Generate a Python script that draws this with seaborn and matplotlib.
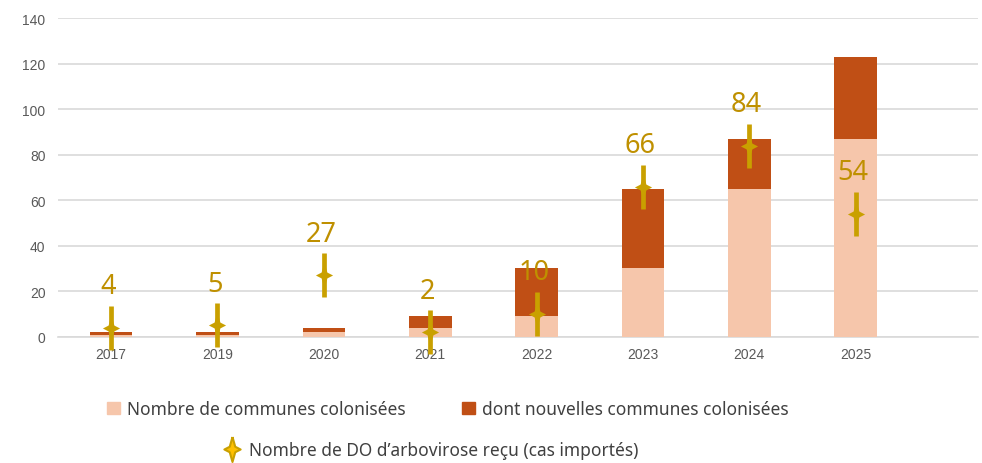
import numpy as np
import matplotlib.pyplot as plt
import seaborn as sns
from matplotlib.patches import Patch
from matplotlib.lines import Line2D

# Data
years = ["2017", "2019", "2020", "2021", "2022", "2023", "2024", "2025"]
communes = [1, 1, 2, 4, 9, 30, 65, 87]          # Nombre de communes colonisées
nouvelles = [1, 1, 2, 5, 21, 35, 22, 36]        # dont nouvelles communes colonisées
do_cases = [4, 5, 27, 2, 10, 66, 84, 54]        # Nombre de DO d'arbovirose reçu

totals = [a + b for a, b in zip(communes, nouvelles)]

# Colours
light = "#F6C6AB"
dark = "#C04F15"
gold = "#C9A000"
label_gold = "#BF9000"
grey = "#595959"

sns.set_theme(style="white")
plt.rcParams['font.family'] = ['Noto Sans', 'DejaVu Sans']

fig, ax = plt.subplots(figsize=(9.82, 4.64), dpi=100)
fig.subplots_adjust(left=0.059, right=0.996, bottom=0.272, top=0.959)

# Stacked bars: total in dark, base in light on top
sns.barplot(x=years, y=totals, color=dark, width=0.4, saturation=1,
            linewidth=0, ax=ax, zorder=2)
sns.barplot(x=years, y=communes, color=light, width=0.4, saturation=1,
            linewidth=0, ax=ax, zorder=3)

# Star markers (vertical line + four point star)
star = [(0, 1), (0.22, 0.22), (0.65, 0), (0.22, -0.22), (0, -1),
        (-0.22, -0.22), (-0.65, 0), (-0.22, 0.22), (0, 1)]
xpos = np.arange(len(years))
ax.plot(xpos, do_cases, ls="none", marker="|", ms=32, mew=3.4, color=gold,
        clip_on=False, zorder=5)
ax.plot(xpos, do_cases, ls="none", marker=star, ms=19, mew=0, color=gold,
        clip_on=False, zorder=6)
for x, v in zip(xpos, do_cases):
    ax.annotate(str(v), (x, v), xytext=(-2, 25), textcoords="offset points",
                ha="center", va="baseline", fontsize=19.5, color=label_gold,
                zorder=7)

# Axes
ax.set_ylim(0, 140)
ax.set_xlim(-0.5, 8.15)
ax.set_yticks(range(0, 141, 20))
ax.yaxis.grid(True, color="#D9D9D9", lw=1.2, zorder=0)
ax.set_axisbelow(True)
for s in ["top", "right", "left"]:
    ax.spines[s].set_visible(False)
ax.spines["bottom"].set_color("#D9D9D9")
ax.spines["bottom"].set_linewidth(1.2)
ax.tick_params(axis="both", length=0, colors=grey, labelsize=10)
ax.tick_params(axis="y", pad=9)
ax.tick_params(axis="x", pad=7)
for lab in ax.get_xticklabels() + ax.get_yticklabels():
    lab.set_family("Liberation Sans")

# Legends
h1 = [Patch(color=light), Patch(color=dark)]
fig.legend(h1, ["Nombre de communes colonisées",
                "dont nouvelles communes colonisées"],
           ncol=2, loc="center", bbox_to_anchor=(0.456, 0.116),
           frameon=False, fontsize=12.5, handlelength=0.7,
           handleheight=0.7, handletextpad=0.4, columnspacing=3.3,
           labelcolor="#404040")
h2 = [Line2D([], [], ls="none", marker=star, ms=18, mfc="#FFC000",
             mec=gold, mew=1.5)]
fig.legend(h2, ["Nombre de DO d\u2019arbovirose reçu (cas importés)"],
           loc="center", bbox_to_anchor=(0.439, 0.028), frameon=False,
           fontsize=12.5, handlelength=1.0, handletextpad=0.5,
           labelcolor="#404040")

fig.savefig("out.png", dpi=100)
